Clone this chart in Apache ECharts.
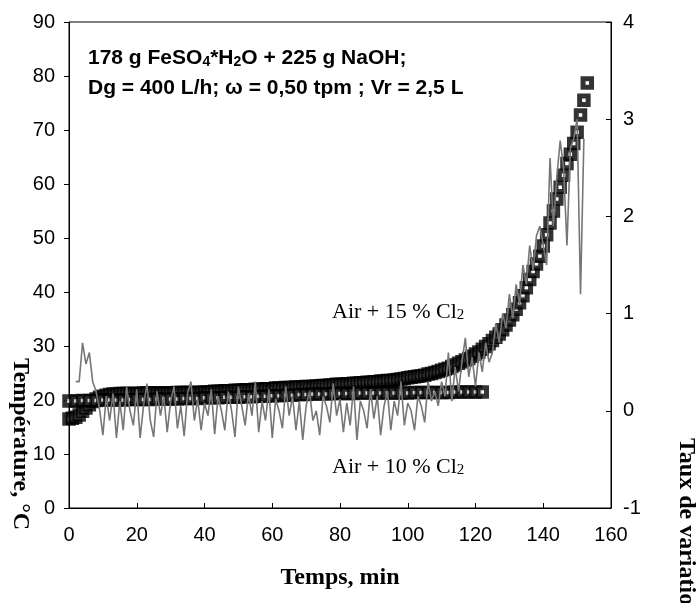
<!DOCTYPE html>
<html>
<head>
<meta charset="utf-8">
<script src="https://cdn.jsdelivr.net/npm/echarts@6/dist/echarts.min.js"></script>
<style>
  html, body { margin: 0; padding: 0; background: #fff; }
  #chart { width: 698px; height: 603px; }
</style>
</head>
<body>
<div id="chart"></div>
<script>
// Air + 15 % Cl2 : temperature (°C), one reading per minute from t = 0
const tempAir15 = [
  16.5, 16.6, 16.8, 17.2, 17.9, 18.5, 19.1, 19.7, 20.2, 20.5,
  20.7, 20.9, 21.0, 21.1, 21.1, 21.2, 21.2, 21.2, 21.2, 21.2,
  21.2, 21.2, 21.3, 21.3, 21.3, 21.3, 21.3, 21.3, 21.3, 21.3,
  21.3, 21.3, 21.4, 21.4, 21.4, 21.4, 21.4, 21.4, 21.4, 21.4,
  21.5, 21.5, 21.5, 21.6, 21.6, 21.6, 21.7, 21.7, 21.7, 21.8,
  21.8, 21.8, 21.9, 21.9, 21.9, 22.0, 22.0, 22.0, 22.1, 22.1,
  22.1, 22.2, 22.2, 22.2, 22.3, 22.3, 22.3, 22.4, 22.4, 22.4,
  22.5, 22.5, 22.5, 22.6, 22.6, 22.7, 22.7, 22.8, 22.8, 22.9,
  22.9, 22.9, 23.0, 23.0, 23.1, 23.1, 23.2, 23.2, 23.3, 23.3,
  23.4, 23.4, 23.5, 23.5, 23.6, 23.6, 23.7, 23.8, 23.9, 24.0,
  24.1, 24.2, 24.3, 24.4, 24.5, 24.6, 24.8, 24.9, 25.1, 25.3,
  25.5, 25.7, 25.9, 26.2, 26.5, 26.8, 27.1, 27.4, 27.7, 28.1,
  28.5, 28.9, 29.4, 29.9, 30.4, 31.0, 31.6, 32.2, 33.0, 33.9,
  34.8, 35.8, 36.8, 38.0, 39.3, 40.8, 42.3, 43.8, 45.2, 46.6,
  48.5, 50.6, 52.8, 55.0, 57.2, 59.4, 61.6, 63.8, 65.5, 67.5,
  69.6, 72.8, 75.5, 78.7
];
const stepAir15 = 1; // min

// Air + 10 % Cl2 : temperature (°C), one reading every 2 minutes from t = 0
const tempAir10 = [
  19.8, 19.8, 19.9, 19.9, 19.9, 20.0, 20.0, 20.0, 20.0, 20.1,
  20.1, 20.1, 20.1, 20.2, 20.2, 20.2, 20.2, 20.3, 20.3, 20.3,
  20.4, 20.4, 20.4, 20.5, 20.5, 20.5, 20.6, 20.6, 20.7, 20.7,
  20.8, 20.8, 20.9, 20.9, 21.0, 21.0, 21.1, 21.1, 21.1, 21.2,
  21.2, 21.2, 21.2, 21.3, 21.3, 21.3, 21.3, 21.3, 21.3, 21.3,
  21.3, 21.4, 21.4, 21.4, 21.4, 21.4, 21.4, 21.5, 21.5, 21.5,
  21.5, 21.5
];
const stepAir10 = 2; // min

// rate of variation (right axis), one reading per minute, first two minutes empty
const rateAir15 = [
  null, null, 0.3, 0.3, 0.7, 0.48, 0.6, 0.3, 0.2, 0.02,
  -0.25, 0.15, -0.1, 0.18, -0.28, 0.1, -0.2, 0.25, 0.0, -0.15,
  0.22, -0.28, 0.05, 0.28, -0.1, -0.27, 0.2, -0.05, 0.15, -0.22,
  0.1, 0.25, -0.18, 0.05, -0.26, 0.18, 0.3, -0.1, 0.12, -0.2,
  0.08, -0.05, 0.22, -0.24, 0.15, 0.0, -0.2, 0.2, 0.0, -0.27,
  0.25, 0.05, -0.15, 0.18, -0.05, 0.3, -0.22, 0.1, -0.1, 0.22,
  -0.28, 0.12, 0.0, -0.18, 0.25, -0.05, 0.15, -0.2, 0.1, -0.3,
  0.05, 0.2, -0.1, 0.0, -0.25, 0.15, 0.05, -0.12, 0.28, -0.05,
  0.12, -0.22, 0.08, -0.15, 0.25, -0.3, 0.1, 0.0, -0.18, 0.22,
  -0.08, 0.15, -0.25, 0.05, 0.2, -0.2, 0.1, -0.05, 0.3, -0.15,
  0.08, 0.0, -0.2, 0.15, 0.05, -0.12, 0.3, 0.1, 0.2, 0.05,
  0.3, 0.15, 0.6, 0.1, 0.45, 0.2, 0.5, 0.75, 0.35, 0.55,
  0.25, 0.6, 0.4, 0.7, 0.5, 0.6, 0.9, 0.7, 1.0, 0.85,
  1.2, 0.95, 1.3, 1.1, 1.5, 1.3, 1.7, 1.45, 1.8, 1.9,
  1.7, 1.5, 2.6, 1.9, 2.4, 2.78, 2.5, 1.7, 2.7, 2.8,
  3.0, 1.2, 2.8
];
const stepRate = 1; // min

const xTicks = { min: 0, max: 160, interval: 20 };
const leftTicks = { min: 0, max: 90, interval: 10 };
const rightTicks = { min: -1, max: 4, interval: 1 };

const toPairs = (arr, step) => arr.map((v, i) => [i * step, v]);

const sansFont = '"Liberation Sans", Arial, sans-serif';
const serifFont = '"Liberation Serif", "Times New Roman", serif';

const chart = echarts.init(document.getElementById('chart'));

const squareStyle = {
  color: '#fff',
  borderColor: '#000',
  borderWidth: 5
};

const subSans = { fontSize: 14, fontWeight: 'bold', fontFamily: sansFont, verticalAlign: 'bottom', lineHeight: 14 };
const subSerif = { fontSize: 15, fontFamily: serifFont, verticalAlign: 'bottom', lineHeight: 14 };

chart.setOption({
  animation: false,
  backgroundColor: '#fff',
  grid: {
    left: 69, right: 87, top: 22, bottom: 95,
    show: true, borderColor: '#000', borderWidth: 1
  },
  xAxis: {
    type: 'value',
    min: xTicks.min, max: xTicks.max, interval: xTicks.interval,
    axisLine: { lineStyle: { color: '#000' } },
    axisTick: { inside: true, length: 5, lineStyle: { color: '#000' } },
    axisLabel: { color: '#000', fontSize: 20, fontFamily: sansFont, margin: 17 },
    splitLine: { show: false }
  },
  yAxis: [
    {
      type: 'value',
      min: leftTicks.min, max: leftTicks.max, interval: leftTicks.interval,
      axisLine: { show: true, lineStyle: { color: '#000' } },
      axisTick: { show: true, length: 5, lineStyle: { color: '#000' } },
      axisLabel: { color: '#000', fontSize: 20, fontFamily: sansFont, margin: 14 },
      splitLine: { show: false }
    },
    {
      type: 'value',
      position: 'right',
      min: rightTicks.min, max: rightTicks.max, interval: rightTicks.interval,
      axisLine: { show: true, lineStyle: { color: '#000' } },
      axisTick: { show: true, inside: true, length: 5, lineStyle: { color: '#000' } },
      axisLabel: { color: '#000', fontSize: 20, fontFamily: sansFont, margin: 12 },
      splitLine: { show: false }
    }
  ],
  series: [
    {
      name: 'Air + 15 % Cl2',
      type: 'scatter',
      yAxisIndex: 0,
      symbol: 'rect',
      symbolSize: 8.5,
      itemStyle: squareStyle,
      data: toPairs(tempAir15, stepAir15),
      z: 2
    },
    {
      name: 'Air + 10 % Cl2',
      type: 'scatter',
      yAxisIndex: 0,
      symbol: 'rect',
      symbolSize: 8.5,
      itemStyle: squareStyle,
      data: toPairs(tempAir10, stepAir10),
      z: 3
    },
    {
      name: 'Taux de variation',
      type: 'line',
      yAxisIndex: 1,
      showSymbol: false,
      lineStyle: { color: '#767676', width: 1.6 },
      data: toPairs(rateAir15, stepRate),
      z: 4
    }
  ],
  graphic: [
    {
      type: 'text', left: 88, top: 48, z: 10,
      style: {
        text: '178 g FeSO{sub|4}*H{sub|2}O + 225 g NaOH;',
        font: 'bold 21px ' + sansFont, fill: '#000',
        rich: { sub: subSans }
      }
    },
    {
      type: 'text', left: 88, top: 78, z: 10,
      style: { text: 'Dg = 400 L/h; \u03c9 = 0,50 tpm ; Vr = 2,5 L', font: 'bold 21px ' + sansFont, fill: '#000' }
    },
    {
      type: 'text', left: 332, top: 301, z: 10,
      style: {
        text: 'Air + 15 % Cl{sub|2}',
        font: '22px ' + serifFont, fill: '#000',
        rich: { sub: subSerif }
      }
    },
    {
      type: 'text', left: 332, top: 456, z: 10,
      style: {
        text: 'Air + 10 % Cl{sub|2}',
        font: '22px ' + serifFont, fill: '#000',
        rich: { sub: subSerif }
      }
    },
    {
      type: 'text', x: 340, y: 578, z: 10,
      style: { text: 'Temps, min', font: 'bold 24px ' + serifFont, fill: '#000', align: 'center', verticalAlign: 'middle' }
    },
    {
      type: 'text', x: 20, y: 444, rotation: -Math.PI / 2, z: 10,
      style: { text: 'Température, °C', font: 'bold 24px ' + serifFont, fill: '#000', align: 'center', verticalAlign: 'middle' }
    },
    {
      type: 'text', x: 686, y: 438, rotation: -Math.PI / 2, z: 10,
      style: { text: 'Taux de variation', font: 'bold 24px ' + serifFont, fill: '#000', align: 'left', verticalAlign: 'middle' }
    }
  ]
});
</script>
</body>
</html>
